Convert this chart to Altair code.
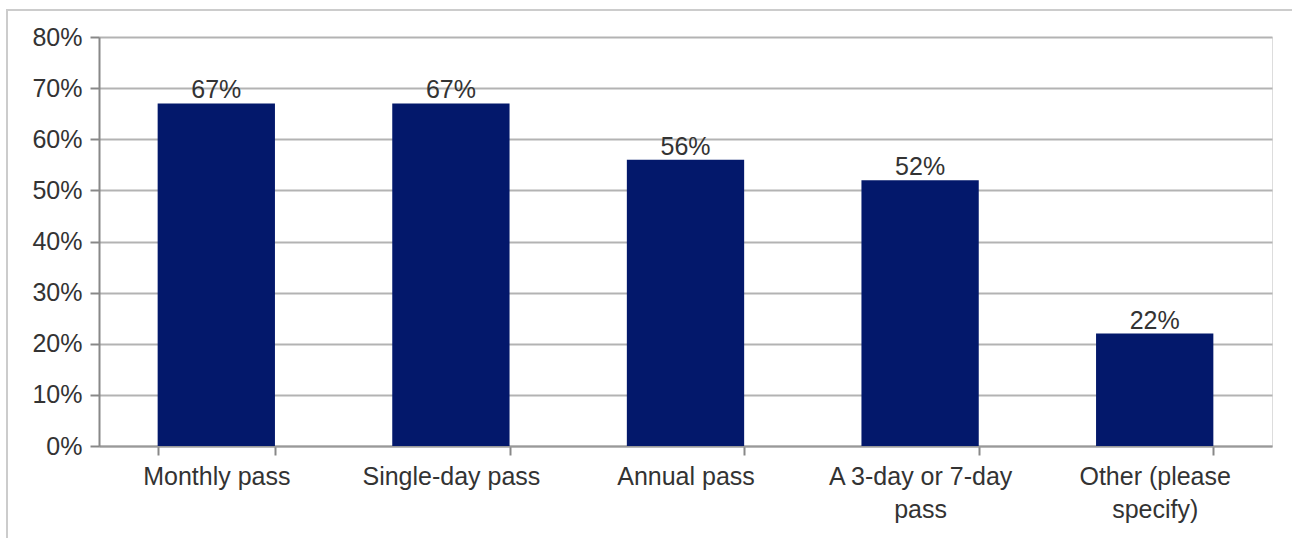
import altair as alt
import pandas as pd

categories = ["Monthly pass", "Single-day pass", "Annual pass", "A 3-day or 7-day pass", "Other (please specify)"]
axis_labels = ["Monthly pass", "Single-day pass", "Annual pass", "A 3-day or 7-day\npass", "Other (please\nspecify)"]
values = [0.67, 0.67, 0.56, 0.52, 0.22]
value_labels = ["67%", "67%", "56%", "52%", "22%"]

df = pd.DataFrame({"cat": axis_labels, "value": values, "label": value_labels})

W, H = 1173, 409
FONT = "Liberation Sans"
FS = 25

x = alt.X("cat:N", sort=None, title=None,
          scale=alt.Scale(paddingInner=0.5, paddingOuter=0.25),
          axis=alt.Axis(labelAngle=0, labelFontSize=FS, labelColor="#333333",
                        labelExpr="split(datum.label, '\\n')", labelLineHeight=33,
                        labelPadding=9, tickSize=9, tickBand="extent", labelLimit=400,
                        tickColor="#888888", domainColor="#999999", domainWidth=2,
                        tickWidth=2, grid=False, labelFont=FONT))
y = alt.Y("value:Q", title=None,
          scale=alt.Scale(domain=[0, 0.8], nice=False),
          axis=alt.Axis(format=".0%", values=[0, .1, .2, .3, .4, .5, .6, .7, .8],
                        labelFontSize=FS, labelColor="#333333", labelPadding=8,
                        tickSize=9, tickColor="#888888", tickWidth=2,
                        domainColor="#888888", domainWidth=2,
                        gridColor="#b3b3b3", gridWidth=2, labelFont=FONT))

frame = alt.Chart(df).mark_rect(filled=False, stroke="#cccccc", strokeWidth=2).encode(
    x=alt.value(-92), x2=alt.value(1400), y=alt.value(-27), y2=alt.value(700)
)

bars = alt.Chart(df).mark_bar(color="#03186b").encode(x=x, y=y)
text = alt.Chart(df).mark_text(baseline="alphabetic", dy=-5, fontSize=FS,
                               color="#333333", font=FONT).encode(
    x=alt.X("cat:N", sort=None), y="value:Q", text="label:N")

chart = alt.layer(frame, bars, text).properties(
    width=W, height=H,
    autosize=alt.AutoSizeParams(type="none"),
    padding={"left": 99, "top": 37, "right": 20, "bottom": 92},
).configure_view(stroke="#a6a6a6", strokeWidth=2).configure(background="white")

chart.save("out.html", embed_options={"renderer": "svg", "actions": False})
